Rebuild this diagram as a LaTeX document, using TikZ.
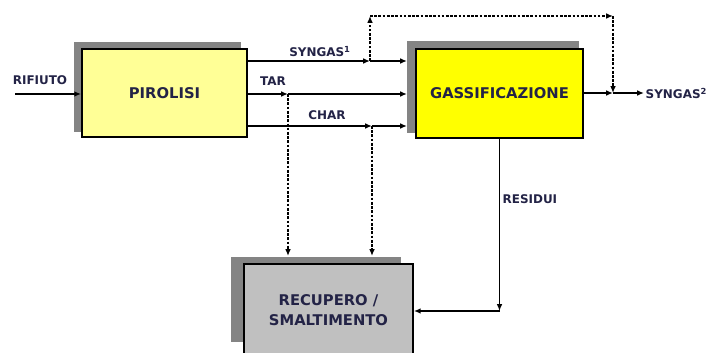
\documentclass[tikz,border=0pt]{standalone}
\usepackage{fontspec}
\setmainfont{DejaVu Sans}
\usepackage{xcolor}
\usepackage{tikz}
\usetikzlibrary{arrows.meta,backgrounds}
\definecolor{boxyellow}{RGB}{255,255,150}
\definecolor{boxgold}{RGB}{255,255,0}
\definecolor{boxgray}{RGB}{192,192,192}
\definecolor{shadowgray}{RGB}{132,132,132}
\definecolor{labelnavy}{RGB}{35,35,70}

\tikzset{
  procbox/.style={draw=black,line width=1.2pt,align=center,inner sep=0pt,
    font=\bfseries\fontsize{10.5}{14}\selectfont,text=labelnavy},
  flowlabel/.style={font=\bfseries\fontsize{8.5}{10}\selectfont,text=labelnavy,inner sep=1pt},
  flow/.style={line width=1pt,-{Latex[length=1.7mm,width=1.4mm]}},
  recycle/.style={flow,line width=1.2pt,dash pattern=on 1.9pt off 1.1pt}
}

\begin{document}
\begin{tikzpicture}[x=0.025cm,y=-0.025cm]
\useasboundingbox (0,0) rectangle (709,353);
% ---------- blocchi ----------
\node[procbox,fill=boxyellow,minimum width=4.125cm,minimum height=2.2cm] (pir) at (164.5,93) {PIROLISI};
\node[procbox,fill=boxgold,minimum width=4.175cm,minimum height=2.225cm] (gas) at (499.5,93.5) {GASSIFICAZIONE};
\node[procbox,fill=boxgray,minimum width=4.225cm,minimum height=2.3cm] (rec) at (328.5,310) {RECUPERO /\\SMALTIMENTO};
% ombre
\begin{scope}[on background layer]
  \fill[shadowgray] ([shift={(-7,-6)}]pir.south west) rectangle ([shift={(-7,-6)}]pir.north east);
  \fill[shadowgray] ([shift={(-8,-6)}]gas.south west) rectangle ([shift={(-5,-7)}]gas.north east);
  \fill[shadowgray] ([shift={(-12,-6)}]rec.north west) rectangle (401,342);
\end{scope}
% ---------- punti di snodo ----------
\coordinate (rin) at (15,94);
\coordinate (jsyn) at (370,61);
\coordinate (jtar) at (288,94);
\coordinate (jchar) at (372,126);
\coordinate (gin) at (407,0);   % bordo ombra gassificazione
\coordinate (rtop) at (0,256);  % bordo ombra recupero
\coordinate (ltop) at (370,16);
\coordinate (rtopr) at (613,16);
\coordinate (jout) at (613,93);
\coordinate (jres) at (498,311);
% ---------- etichette ----------
\node[flowlabel] (lrif) at (40,80) {RIFIUTO};
\node[flowlabel] (lsyn) at (320,52) {SYNGAS\textsuperscript{1}};
\node[flowlabel] (ltar) at (273,81) {TAR};
\node[flowlabel] (lchar) at (327,115) {CHAR};
\node[flowlabel,anchor=west] (lout) at (644,93) {SYNGAS\textsuperscript{2}};
\node[flowlabel,anchor=west] (lres) at (501,199) {RESIDUI};
% ---------- flussi ----------
\draw[flow] (rin) -- (rin -| pir.west);
\draw[flow] (pir.east |- jsyn) -- (jsyn);
\draw[flow] (jsyn) -- (jsyn -| gin);
\draw[flow] (pir.east |- jtar) -- (jtar);
\draw[flow] (jtar) -- (jtar -| gin);
\draw[flow] (pir.east |- jchar) -- (jchar);
\draw[flow] (jchar) -- (jchar -| gin);
\draw[flow] (gas.east |- jout) -- (jout);
\draw[flow] (jout) -- (lout.west);
\draw[flow] (gas.south) -- (gas.south |- jres);
\draw[flow] (gas.south |- jres) -- (rec.east |- jres);
% ricircoli tratteggiati
\draw[recycle] (jsyn) -- (ltop);
\draw[recycle] (ltop) -- (rtopr);
\draw[recycle] (rtopr) -- (jout);
\draw[recycle] (jtar) -- (jtar |- rtop);
\draw[recycle] (jchar) -- (jchar |- rtop);
\end{tikzpicture}
\end{document}
